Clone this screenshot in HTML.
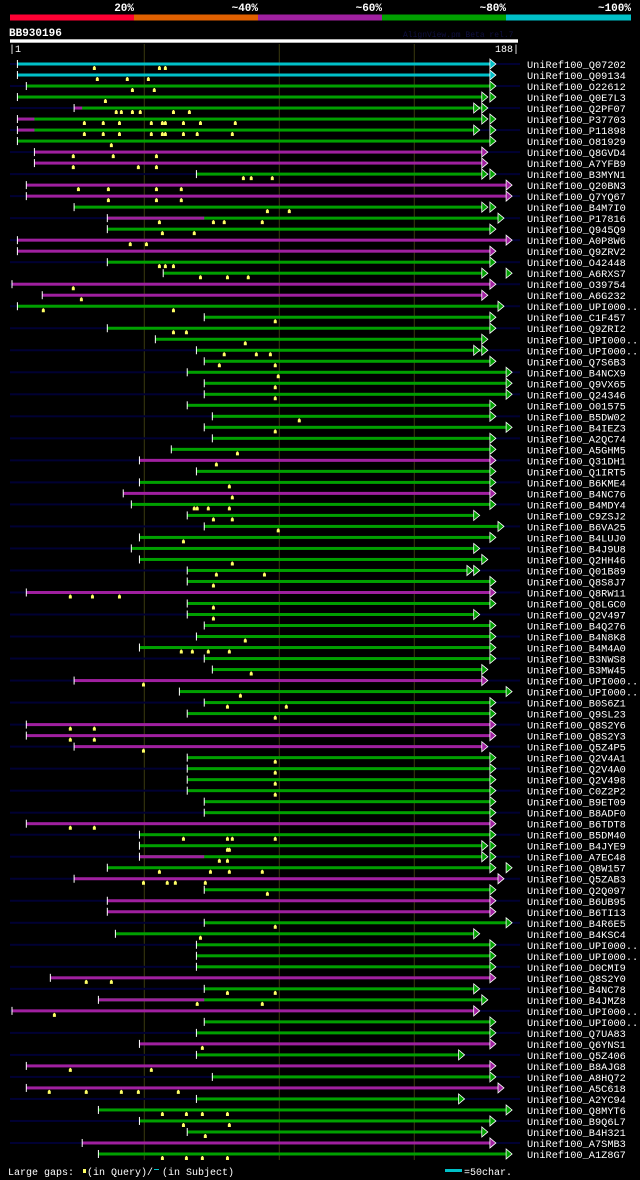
<!DOCTYPE html>
<html><head><meta charset="utf-8">
<style>
html,body{margin:0;padding:0;background:#000;}
svg{display:block;}
text{font-family:"Liberation Mono","DejaVu Sans Mono",monospace;}
</style></head>
<body>
<svg id="chart" width="640" height="1180" viewBox="0 0 640 1180" xmlns="http://www.w3.org/2000/svg">
<rect width="640" height="1180" fill="#000"/>
<g>
<rect x="10" y="14.5" width="124" height="6" fill="#ff0033"/>
<rect x="134" y="14.5" width="124" height="6" fill="#e06000"/>
<rect x="258" y="14.5" width="124" height="6" fill="#a020a0"/>
<rect x="382" y="14.5" width="124" height="6" fill="#00a000"/>
<rect x="506" y="14.5" width="125" height="6" fill="#00c0c8"/>
<g font-size="11" font-weight="bold" fill="#fff" text-anchor="end">
<text x="134" y="11">20%</text>
<text x="258" y="11">~40%</text>
<text x="382" y="11">~60%</text>
<text x="506" y="11">~80%</text>
<text x="631" y="11">~100%</text>
</g></g>
<text x="9" y="36" font-size="11" font-weight="bold" fill="#fff">BB930196</text>
<text x="403" y="37" font-size="8" fill="#101040">AlignView.pm Beta rel.7</text>
<rect x="10" y="39.3" width="508" height="3.4" fill="#fff"/>
<text x="9" y="52" font-size="10" fill="#fff">|1</text>
<text x="519" y="52" font-size="10" fill="#fff" text-anchor="end">188|</text>
<g id="grid"></g>
<g id="rows"></g>
<g>
<text x="8" y="1175" font-size="10" fill="#fff">Large gaps:</text>
<rect x="83" y="1169" width="3" height="4" fill="#ffff66"/>
<text x="87" y="1175" font-size="10" fill="#fff">(in Query)/</text>
<rect x="154" y="1169" width="5" height="1" fill="#00c0c8"/>
<text x="162" y="1175" font-size="10" fill="#fff">(in Subject)</text>
<rect x="445" y="1169" width="17" height="3" fill="#00c0c8"/>
<text x="464" y="1175" font-size="10" fill="#fff">=50char.</text>
</g>
</svg>
<script>
const names = ["Q07202","Q09134","O22612","Q0E7L3","Q2PF07","P37703","P11898","O81929","Q8GVD4","A7YFB9",
"B3MYN1","Q20BN3","Q7YQ67","B4M7I0","P17816","Q945Q9","A0P8W6","Q9ZRV2","O42448","A6RXS7",
"O39754","A6G232","UPI000..","C1F457","Q9ZRI2","UPI000..","UPI000..","Q7S6B3","B4NCX9","Q9VX65",
"Q24346","O01575","B5DW02","B4IEZ3","A2QC74","A5GHM5","Q31DH1","Q1IRT5","B6KME4","B4NC76",
"B4MDY4","C9ZSJ2","B6VA25","B4LUJ0","B4J9U8","Q2HH46","Q01B89","Q8S8J7","Q8RW11","Q8LGC0",
"Q2V497","B4Q276","B4N8K8","B4M4A0","B3NWS8","B3MW45","UPI000..","UPI000..","B0S6Z1","Q9SL23",
"Q8S2Y6","Q8S2Y3","Q5Z4P5","Q2V4A1","Q2V4A0","Q2V498","C0Z2P2","B9ET09","B8ADF0","B6TDT8",
"B5DM40","B4JYE9","A7EC48","Q8W157","Q5ZAB3","Q2Q097","B6UB95","B6TI13","B4R6E5","B4KSC4",
"UPI000..","UPI000..","D0CMI9","Q8S2Y0","B4NC78","B4JMZ8","UPI000..","UPI000..","Q7UA83","Q6YNS1",
"Q5Z406","B8AJG8","A8HQ72","A5C618","A2YC94","Q8MYT6","B9Q6L7","B4H321","A7SMB3","A1Z8G7"];
const starts = [3,3,6.3,3,24,3,3,3,9.3,9.3,69.3,6.3,6.3,24,36.3,36.3,3,3,36.3,57,1,12.2,3,72.2,36.3,
54.1,69.3,72.2,65.9,72.2,72.2,65.9,75.2,72.2,75.2,60,48.2,69.3,48.2,42.2,45.2,65.9,72.2,48.2,45.2,48.2,65.9,65.9,6.3,65.9,
65.9,72.2,69.3,48.2,72.2,75.2,24,63,72.2,65.9,6.3,6.3,24,65.9,65.9,65.9,65.9,72.2,72.2,6.3,48.2,48.2,48.2,36.3,24,
72.2,36.3,36.3,72.2,39.3,69.3,69.3,69.3,15.2,72.2,33,1,72.2,69.3,48.2,69.3,6.3,75.2,6.3,69.3,33,48.2,65.9,27,33];
const ends = [178,178,178,175,175,175,172,178,175,175,175,184,184,175,181,178,184,178,178,175,178,175,181,178,178,
175,175,178,184,184,184,178,178,184,178,178,178,178,178,178,178,172,181,178,172,175,169.5,178,178,178,
172,178,178,178,178,175,175,184,178,178,178,178,175,178,178,178,178,178,178,178,178,175,175,178,181,
178,178,178,184,172,178,178,178,178,172,175,172,178,178,178,166.4,178,178,181,166.4,184,178,175,178,184];
const extraArrows = {3:178,4:172,5:178,6:178,10:178,13:178,19:184,26:172,46:172,71:178,72:178,73:184};
const colorCodes = [
"c","c","g","g","g","g","g","g","m","m",
"g","m","m","g","g","g","m","m","g","g",
"m","m","g","g","g","g","g","g","g","g",
"g","g","g","g","g","g","m","g","g","m",
"g","g","g","g","g","g","g","g","m","g",
"g","g","g","g","g","g","m","g","g","g",
"m","m","m","g","g","g","g","g","g","m",
"g","g","g","g","m","g","m","m","g","g",
"g","g","g","m","g","g","m","g","g","m",
"g","m","g","m","g","g","g","g","m","g"];
const prefixEnds = {4:27,5:9.3,6:9.3,14:72.2,72:72.2,85:72.2};
const gapMarks = [[31.5,55.6,57.8],[32.6,43.7,51.5],[45.6,53.7],[35.6],[39.6,41.5,45.6,48.5,60.8,66.7],
[27.8,34.8,40.8,52.6,56.7,57.8,64.5,70.8,83.7],[27.8,34.8,40.8,52.6,56.7,57.8,64.5,69.6,82.6],[37.8],[23.7,38.5,54.5],[23.7,47.8,54.5],
[86.7,89.6,97.4],[25.6,36.7,54.5,63.7],[36.7,54.5,63.7],[95.6,103.7],[55.6,75.6,79.6,93.7],[56.7,68.5],[44.8,50.8],[],[55.6,57.8,60.8],[70.8,80.8,88.5],
[23.7],[26.7],[12.6,60.8],[98.5],[60.8,65.6],[87.4],[79.6,91.5,96.7],[77.8,98.5],[99.6],[98.5],
[98.5],[],[107.4],[98.5],[],[84.5],[76.7],[],[81.5],[82.6],
[68.5,69.6,73.7,81.5],[75.6,82.6],[99.6],[64.5],[],[82.6],[76.7,94.5],[75.6],[22.6,30.8,40.8],[75.6],
[75.6],[],[87.4],[63.7,67.8,73.7,81.5],[],[89.6],[49.7],[85.6],[80.8,102.6],[98.5],
[22.6,31.5],[22.6,31.5],[49.7],[98.5],[98.5],[98.5],[98.5],[],[],[22.6,31.5],
[64.5,80.8,82.6,98.5],[80.8,81.5],[77.8,80.8],[55.6,74.5,81.5,93.7],[49.7,58.5,61.5,72.6],[95.6],[],[],[98.5],[70.8],
[],[],[],[28.5,37.8],[80.8,98.5],[69.6,93.7],[16.7],[],[],[71.5],
[],[22.6,52.6],[],[14.8,28.5,41.5,47.8,62.6],[],[56.7,65.6,71.5,80.8],[64.5,81.5],[72.6],[],[56.7,65.6,71.5,80.8]];
const gridTicks = [50,100,150];

const NS="http://www.w3.org/2000/svg";
const xScale = p => 12 + (p-1)*2.7;
const yScale = i => 64 + i*11.01;
const palette = {c:"#00c0c8",g:"#00a000",m:"#a020a0"};
function mk(tag, attrs, parent){const e=document.createElementNS(NS,tag);for(const k in attrs)e.setAttribute(k,attrs[k]);parent.appendChild(e);return e;}
const grid=document.getElementById('grid');
gridTicks.forEach(t=>{
  const l=mk('line',{x1:xScale(t),x2:xScale(t),y1:44,y2:1160,stroke:"#3a3a10","stroke-width":1},grid);
  
  
});
const rows=document.getElementById('rows');
function arrow(g,x,y,fill){
  const a=mk('polygon',{points:`${x},${y-5} ${x+6},${y} ${x},${y+5}`,fill:fill,stroke:"#fff","stroke-width":0.8},g);
  
  
}
names.forEach((n,i)=>{
  const y=yScale(i);
  const g=mk('g',{},rows);
  
  
  if(i%2===0){
    const bg=mk('rect',{x:10,y:y-1,width:510,height:2,fill:"#000033"},g);
    
    
  }
  const col=palette[colorCodes[i]];
  const x0=xScale(starts[i]), x1=xScale(ends[i]);
  const bar=mk('rect',{x:x0,y:y-1.5,width:x1-x0,height:3,fill:col},g);
  
  
  if(prefixEnds[i]!==undefined){
    const pb=mk('rect',{x:x0,y:y-1.5,width:xScale(prefixEnds[i])-x0,height:3,fill:palette.m},g);
    
    
  }
  const tk=mk('rect',{x:x0-0.5,y:y-4,width:1,height:8,fill:"#fff"},g);
  
  
  if(extraArrows[i]!==undefined) arrow(g,xScale(extraArrows[i]),y,col);
  arrow(g,x1,y,col);
  gapMarks[i].forEach(p=>{
    const gx=xScale(p);
    const m=mk('polygon',{points:`${gx-1.5},${y+6} ${gx-1.5},${y+3.5} ${gx-0.5},${y+2} ${gx+0.5},${y+2} ${gx+1.5},${y+3.5} ${gx+1.5},${y+6}`,fill:"#ffff66"},g);
    
    
  });
  const t=mk('text',{x:527,y:y+4,"font-size":10.3,fill:"#fff"},g);
  t.textContent='UniRef100_'+n;
  
  
});
</script>
</body></html>
